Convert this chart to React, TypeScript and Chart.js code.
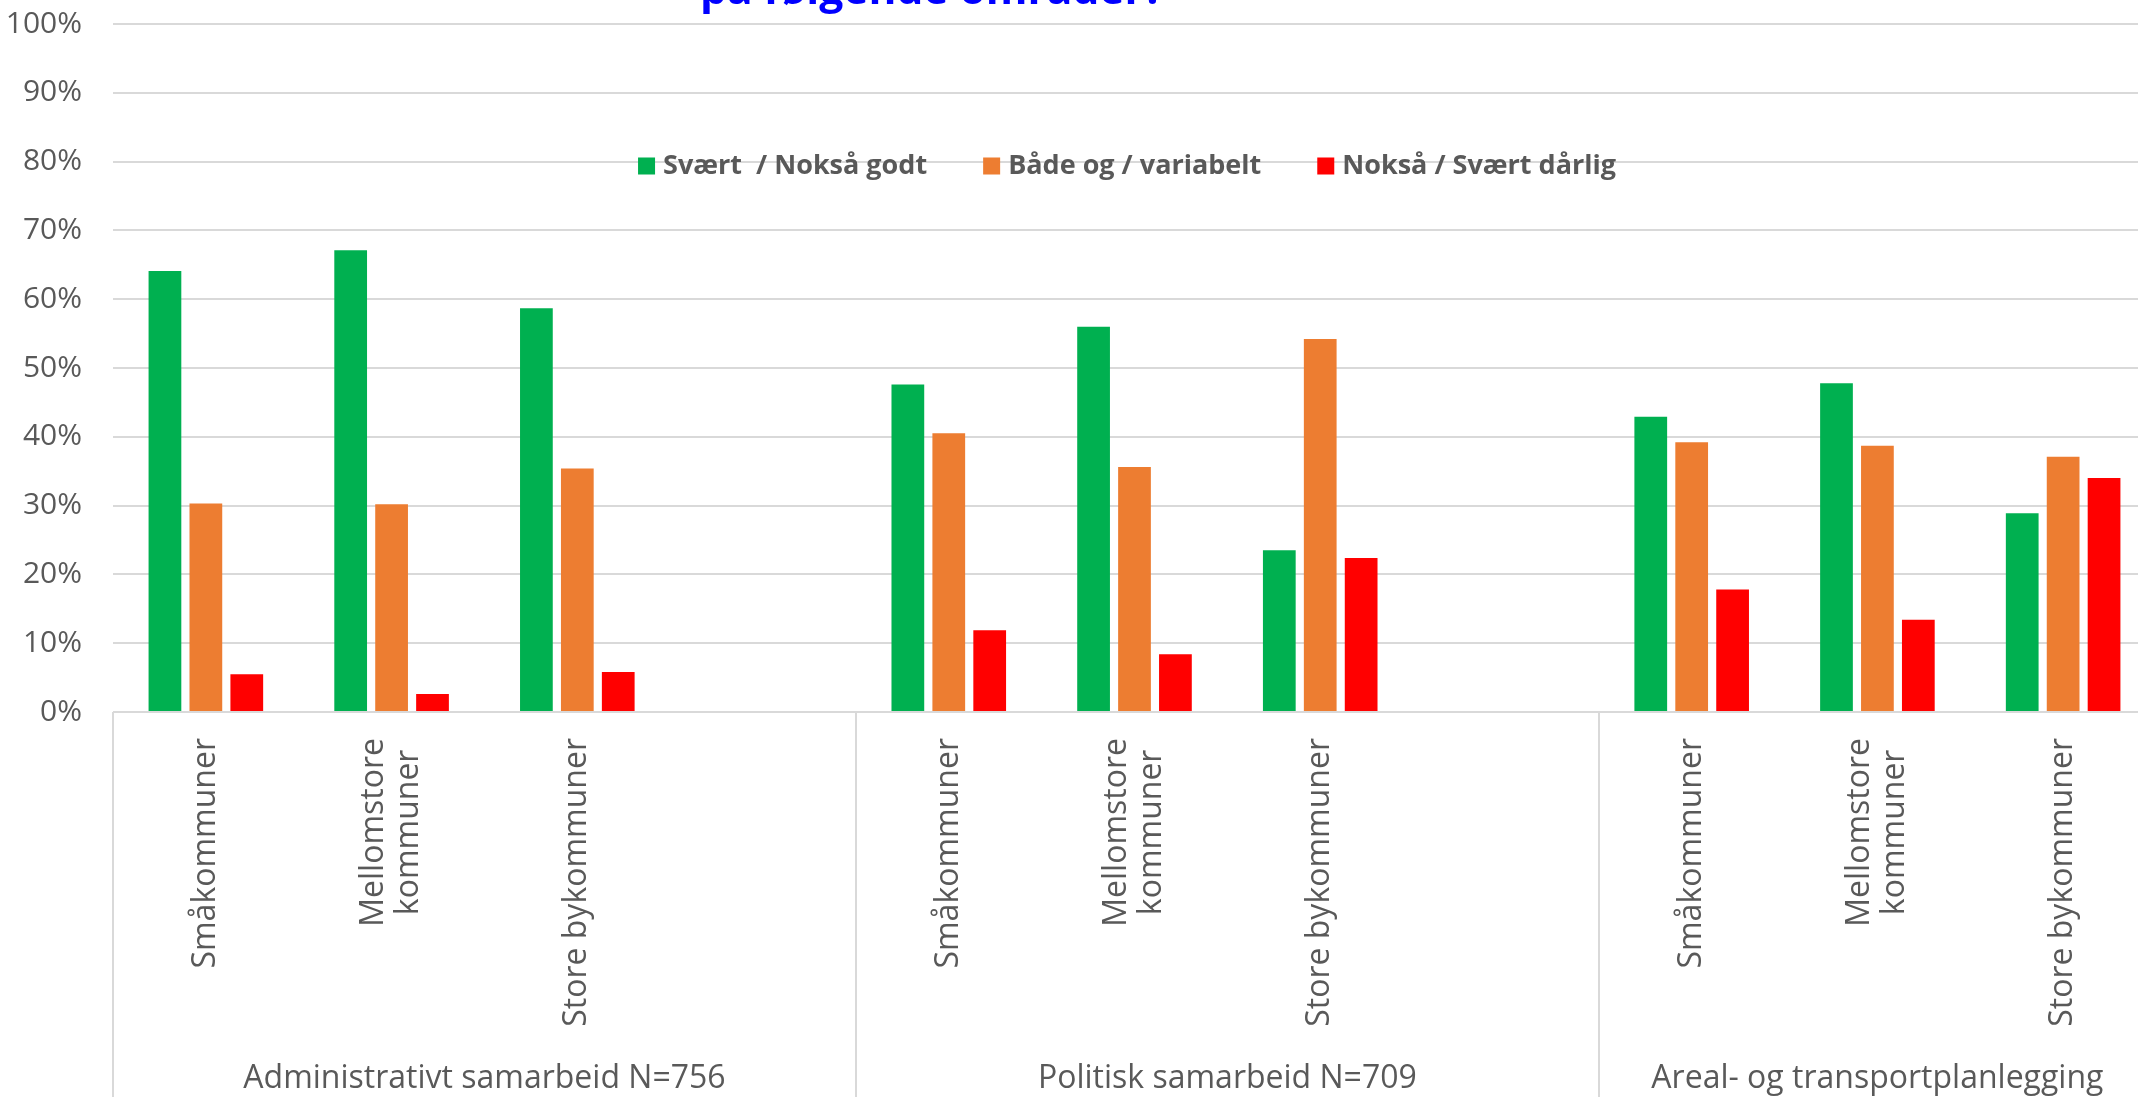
import React, { useEffect, useRef } from "react";
import { Chart, registerables } from "chart.js";

Chart.register(...registerables);

// ---------- data ----------
const groups = ["Administrativt samarbeid N=756", "Politisk samarbeid N=709", "Areal- og transportplanlegging"];
const subCategories = ["Småkommuner", "Mellomstore\nkommuner", "Store bykommuner"];
const seriesNames = ["Svært  / Nokså godt", "Både og / variabelt", "Nokså / Svært dårlig"];
const seriesColors = ["#00B050", "#ED7D31", "#FF0000"];
// values per (group, sub-category), in percent
const godtValues = [64.1, 67.1, 58.7, 47.6, 56.0, 23.5, 42.9, 47.8, 28.9];
const variabeltValues = [30.3, 30.2, 35.4, 40.5, 35.6, 54.2, 39.2, 38.7, 37.1];
const darligValues = [5.5, 2.6, 5.8, 11.9, 8.4, 22.4, 17.8, 13.4, 34.0];
const yTickValues = [0, 10, 20, 30, 40, 50, 60, 70, 80, 90, 100];
const titleText = "på følgende områder?";

// ---------- layout constants ----------
const CANVAS_W = 2172;
const CANVAS_H = 1112;
const FONT = "'Open Sans'";
const TEXT_COLOR = "#595959";

// build slots (each group followed by a blank slot, except the last one)
const slotLabels: string[] = [];
const slotSource: (number | null)[] = [];
const groupStarts: number[] = [];
groups.forEach((g, gi) => {
  groupStarts.push(slotLabels.length);
  subCategories.forEach((s, si) => {
    slotLabels.push(s);
    slotSource.push(gi * subCategories.length + si);
  });
  if (gi < groups.length - 1) {
    slotLabels.push("");
    slotSource.push(null);
  }
});
const expand = (vals: number[]) => slotSource.map((i) => (i === null ? null : vals[i]));
const seriesValues = [godtValues, variabeltValues, darligValues];

const decorPlugin = {
  id: "decor",
  afterDraw(chart: any) {
    const { ctx, chartArea } = chart;
    const x = chart.scales.x;
    const n = slotLabels.length;
    const slotW = (chartArea.right - chartArea.left) / n;
    ctx.save();

    // group separators below the axis
    ctx.strokeStyle = "#d9d9d9";
    ctx.lineWidth = 2;
    groupStarts.forEach((si) => {
      const bx = Math.round(x.getPixelForValue(si) - slotW / 2);
      ctx.beginPath();
      ctx.moveTo(bx, chartArea.bottom);
      ctx.lineTo(bx, chart.height);
      ctx.stroke();
    });

    // rotated sub-category labels
    ctx.fillStyle = TEXT_COLOR;
    ctx.font = `32px ${FONT}`;
    ctx.textBaseline = "middle";
    const lineH = 35;
    slotLabels.forEach((lab, i) => {
      if (!lab) return;
      const lines = lab.split("\n");
      const maxW = Math.max(...lines.map((l) => ctx.measureText(l).width));
      const cx = x.getPixelForValue(i);
      ctx.save();
      ctx.translate(cx, chartArea.bottom + 26);
      ctx.rotate(-Math.PI / 2);
      ctx.textAlign = "center";
      lines.forEach((l, li) => {
        ctx.fillText(l, -maxW / 2, (li - (lines.length - 1) / 2) * lineH);
      });
      ctx.restore();
    });

    // group labels
    ctx.font = `32px ${FONT}`;
    ctx.textAlign = "center";
    ctx.textBaseline = "alphabetic";
    groups.forEach((g, gi) => {
      const start = x.getPixelForValue(groupStarts[gi]) - slotW / 2;
      const end = gi + 1 < groups.length ? x.getPixelForValue(groupStarts[gi + 1]) - slotW / 2 : chartArea.right;
      ctx.fillText(g, (start + end) / 2, 1088);
    });

    // legend (inside plot area)
    ctx.font = `bold 27px ${FONT}`;
    const box = 17, boxGap = 8, itemGap = 56;
    const ds = chart.data.datasets;
    const widths = ds.map((d: any) => ctx.measureText(d.label).width);
    const total = widths.reduce((a: number, w: number) => a + box + boxGap + w, 0) + itemGap * (widths.length - 1);
    let lx = 1127 - total / 2;
    const ly = 166;
    ds.forEach((d: any, i: number) => {
      ctx.fillStyle = d.backgroundColor;
      ctx.fillRect(lx, ly - box / 2, box, box);
      ctx.fillStyle = TEXT_COLOR;
      ctx.textAlign = "left";
      ctx.textBaseline = "middle";
      ctx.fillText(d.label, lx + box + boxGap, ly);
      lx += box + boxGap + widths[i] + itemGap;
    });

    // title (cut off at the top)
    ctx.font = `bold 42.5px ${FONT}`;
    ctx.fillStyle = "#0000FF";
    ctx.textAlign = "center";
    ctx.textBaseline = "alphabetic";
    ctx.fillText(titleText, 932, 4);

    ctx.restore();
  },
};

export default function App() {
  const ref = useRef<HTMLCanvasElement>(null);
  useEffect(() => {
    if (!ref.current) return;
    const chart = new Chart(ref.current, {
      type: "bar",
      data: {
        labels: slotLabels,
        datasets: seriesNames.map((name, i) => ({
          label: name,
          data: expand(seriesValues[i]),
          backgroundColor: seriesColors[i],
          borderWidth: 0,
          barPercentage: 0.8,
          categoryPercentage: 0.661,
        })),
      },
      options: {
        animation: false,
        responsive: false,
        maintainAspectRatio: false,
        devicePixelRatio: 1,
        layout: { padding: { left: 0, top: 0, right: CANVAS_W - 2156, bottom: 0 } },
        plugins: {
          legend: { display: false },
          title: { display: false },
          tooltip: { enabled: false },
        },
        scales: {
          x: {
            type: "category",
            offset: true,
            grid: { display: false },
            border: { display: false },
            ticks: { display: false },
            afterFit: (s: any) => {
              s.height = CANVAS_H - 712;
            },
          },
          y: {
            min: 0,
            max: 100,
            afterBuildTicks: (s: any) => {
              s.ticks = yTickValues.map((v) => ({ value: v }));
            },
            ticks: {
              callback: (v: any) => `${v}%`,
              color: TEXT_COLOR,
              font: { family: FONT, size: 30 },
              padding: 31,
            },
            grid: { color: "#d9d9d9", lineWidth: 2, drawTicks: false },
            border: { display: false },
            afterFit: (s: any) => {
              s.width = 113;
              s.paddingTop = 24;
              s.paddingBottom = 0;
            },
          },
        },
      },
      plugins: [decorPlugin],
    } as any);
    return () => chart.destroy();
  }, []);

  return (
    <div
      style={{
        position: "fixed",
        left: 0,
        top: 0,
        width: 2138,
        height: 1097,
        overflow: "hidden",
        background: "#ffffff",
      }}
    >
      <canvas
        ref={ref}
        width={CANVAS_W}
        height={CANVAS_H}
        style={{ display: "block", width: CANVAS_W, height: CANVAS_H }}
      />
    </div>
  );
}
